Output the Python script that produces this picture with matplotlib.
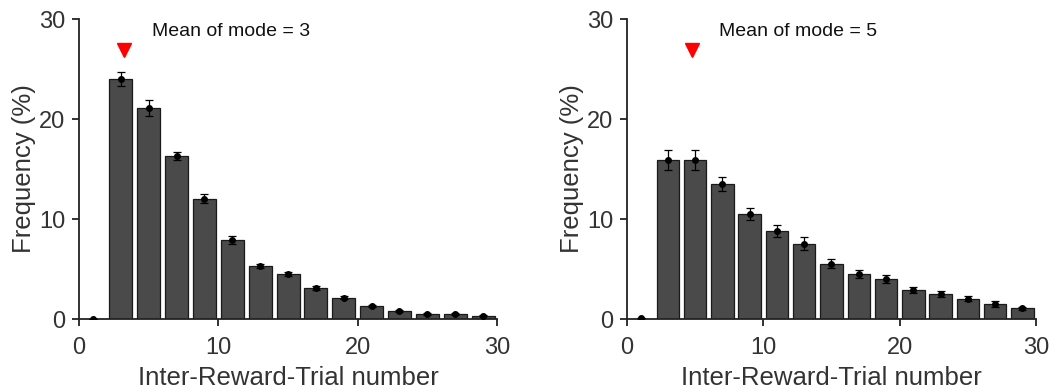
import numpy as np
import matplotlib
matplotlib.use('Agg')
import matplotlib.pyplot as plt

plt.rcParams['font.family'] = ['Liberation Sans', 'DejaVu Sans']

# Inter-reward-trial bins (odd trial counts)
trials = [1, 3, 5, 7, 9, 11, 13, 15, 17, 19, 21, 23, 25, 27, 29]

# Panel 1: mean of mode = 3
freq_a = [0.0, 24.0, 21.1, 16.35, 12.05, 7.9, 5.35, 4.55, 3.15, 2.15, 1.35, 0.8, 0.5, 0.5, 0.35]
err_a = [0.0, 0.7, 0.8, 0.4, 0.45, 0.4, 0.2, 0.2, 0.2, 0.15, 0.1, 0.1, 0.08, 0.08, 0.08]
mode_a = 3.2

# Panel 2: mean of mode = 5
freq_b = [0.1, 15.95, 15.9, 13.5, 10.55, 8.85, 7.55, 5.55, 4.5, 4.0, 2.95, 2.5, 2.05, 1.5, 1.1]
err_b = [0.0, 1.0, 1.0, 0.7, 0.6, 0.6, 0.65, 0.45, 0.4, 0.4, 0.3, 0.3, 0.25, 0.3, 0.15]
mode_b = 4.8

titles = ['Mean of mode = 3', 'Mean of mode = 5']

fig = plt.figure(figsize=(10.62, 3.92), dpi=100)
ax1 = fig.add_axes([0.0744, 0.186, 0.3936, 0.7655])
ax2 = fig.add_axes([0.5904, 0.186, 0.3851, 0.7655])

for ax, freq, err, mode, title, tx in [(ax1, freq_a, err_a, mode_a, titles[0], 5.25),
                                       (ax2, freq_b, err_b, mode_b, titles[1], 6.75)]:
    x = np.array(trials)
    y = np.array(freq)
    # first bin has no bar, just the mean point
    ax.bar(x[1:], y[1:], width=1.65, color='#4a4a4a', edgecolor='#1a1a1a', linewidth=0.9, zorder=2)
    ax.errorbar(x, y, yerr=err, fmt='o', color='black', markersize=4,
                elinewidth=0.9, capsize=3, capthick=0.9, zorder=3)
    ax.plot([mode], [26.9], marker='v', color='red', markersize=10, linestyle='none', zorder=4)
    ax.text(tx, 28.8, title, fontsize=14, va='center', ha='left', color='#111111')

    ax.set_xlim(0, 30)
    ax.set_ylim(0, 30)
    ax.set_xticks([0, 10, 20, 30])
    ax.set_yticks([0, 10, 20, 30])
    ax.spines['top'].set_visible(False)
    ax.spines['right'].set_visible(False)
    ax.spines['left'].set_linewidth(1.3)
    ax.spines['bottom'].set_linewidth(1.3)
    ax.spines['left'].set_color('#222222')
    ax.spines['bottom'].set_color('#222222')
    ax.tick_params(direction='out', length=5, width=1.3, labelsize=17, colors='#222222',
                   labelcolor='#333333')
    ax.tick_params(axis='x', pad=8)
    ax.tick_params(axis='y', pad=5)
    ax.set_xlabel('Inter-Reward-Trial number', fontsize=18.5, color='#333333', labelpad=5)
    ax.set_ylabel('Frequency (%)', fontsize=18.5, color='#333333', labelpad=2)

fig.savefig('out.png', dpi=100)
